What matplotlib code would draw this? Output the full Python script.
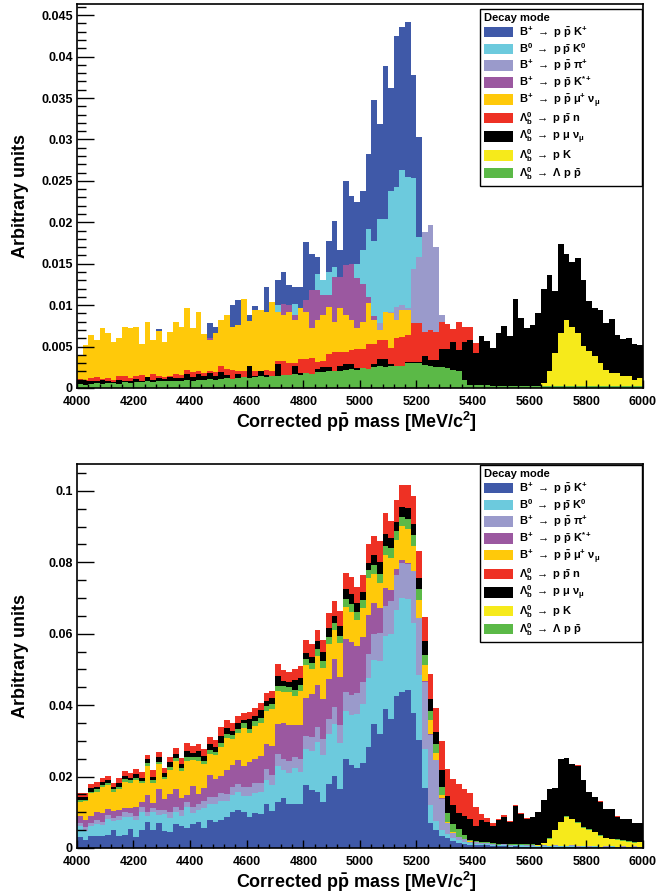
import numpy as np
import matplotlib
matplotlib.use("Agg")
import matplotlib.pyplot as plt
from matplotlib.patches import Patch
from matplotlib.ticker import MultipleLocator, FuncFormatter

plt.rcParams["font.family"] = ["Liberation Sans", "DejaVu Sans"]
plt.rcParams["font.weight"] = "bold"
plt.rcParams["mathtext.fontset"] = "custom"
plt.rcParams["mathtext.rm"] = "Liberation Sans:bold"
plt.rcParams["mathtext.bf"] = "Liberation Sans:bold"
plt.rcParams["mathtext.it"] = "Liberation Sans:italic"
plt.rcParams["mathtext.default"] = "rm"

# 100 bins of 20 MeV between 4000 and 6000
edges = np.linspace(4000, 6000, 101)

# B+ -> p pbar K+
b_ppk = [
    0.0030, 0.0022, 0.0033, 0.0034, 0.0034, 0.0035, 0.0050, 0.0034, 0.0035, 0.0053,
    0.0031, 0.0050, 0.0072, 0.0050, 0.0071, 0.0047, 0.0045, 0.0066, 0.0062, 0.0055,
    0.0068, 0.0072, 0.0055, 0.0078, 0.0074, 0.0078, 0.0086, 0.0100, 0.0106, 0.0100,
    0.0088, 0.0099, 0.0094, 0.0122, 0.0104, 0.0130, 0.0140, 0.0124, 0.0122, 0.0122,
    0.0176, 0.0162, 0.0158, 0.0130, 0.0178, 0.0202, 0.0166, 0.0250, 0.0232, 0.0224,
    0.0238, 0.0283, 0.0348, 0.0319, 0.0389, 0.0362, 0.0425, 0.0436, 0.0442, 0.0378,
    0.0303, 0.0168, 0.0070, 0.0050, 0.0034, 0.0028, 0.0019, 0.0015, 0.0012, 0.0009,
    0.0008, 0.0007, 0.0007, 0.0006, 0.0005, 0.0005, 0.0004, 0.0005, 0.0004, 0.0004,
    0.0004, 0.0003, 0.0004, 0.0003, 0.0004, 0.0003, 0.0003, 0.0004, 0.0003, 0.0003,
    0.0003, 0.0003, 0.0002, 0.0003, 0.0003, 0.0002, 0.0003, 0.0002, 0.0003, 0.0002,
]
# B0 -> p pbar K0
b0_ppk0 = [
    0.0031, 0.0026, 0.0028, 0.0034, 0.0031, 0.0046, 0.0025, 0.0044, 0.0052, 0.0035,
    0.0046, 0.0050, 0.0018, 0.0050, 0.0020, 0.0048, 0.0040, 0.0036, 0.0028, 0.0060,
    0.0030, 0.0034, 0.0058, 0.0046, 0.0050, 0.0054, 0.0045, 0.0048, 0.0052, 0.0045,
    0.0058, 0.0055, 0.0062, 0.0068, 0.0072, 0.0100, 0.0078, 0.0085, 0.0101, 0.0090,
    0.0102, 0.0110, 0.0138, 0.0130, 0.0140, 0.0146, 0.0128, 0.0135, 0.0140, 0.0150,
    0.0166, 0.0192, 0.0178, 0.0204, 0.0204, 0.0238, 0.0242, 0.0263, 0.0255, 0.0253,
    0.0182, 0.0110, 0.0050, 0.0025, 0.0016, 0.0012, 0.0008, 0.0006, 0.0005, 0.0004,
    0.0004, 0.0003, 0.0003, 0.0003, 0.0002, 0.0003, 0.0002, 0.0002, 0.0003, 0.0002,
    0.0002, 0.0002, 0.0002, 0.0002, 0.0002, 0.0002, 0.0002, 0.0002, 0.0001, 0.0002,
    0.0001, 0.0002, 0.0001, 0.0001, 0.0002, 0.0001, 0.0001, 0.0001, 0.0001, 0.0001,
]
# B+ -> p pbar pi+
b_pppi = [
    0.0009, 0.0010, 0.0008, 0.0011, 0.0009, 0.0012, 0.0010, 0.0011, 0.0013, 0.0010,
    0.0012, 0.0014, 0.0011, 0.0013, 0.0015, 0.0012, 0.0016, 0.0014, 0.0017, 0.0015,
    0.0018, 0.0016, 0.0019, 0.0020, 0.0018, 0.0022, 0.0021, 0.0024, 0.0022, 0.0026,
    0.0025, 0.0028, 0.0026, 0.0030, 0.0029, 0.0032, 0.0031, 0.0035, 0.0033, 0.0038,
    0.0036, 0.0040, 0.0042, 0.0045, 0.0043, 0.0048, 0.0050, 0.0053, 0.0056, 0.0060,
    0.0062, 0.0068, 0.0072, 0.0078, 0.0085, 0.0092, 0.0098, 0.0100, 0.0097, 0.0144,
    0.0158, 0.0188, 0.0197, 0.0170, 0.0088, 0.0030, 0.0015, 0.0010, 0.0007, 0.0005,
    0.0004, 0.0003, 0.0003, 0.0003, 0.0002, 0.0002, 0.0002, 0.0002, 0.0002, 0.0001,
    0.0001, 0.0001, 0.0001, 0.0001, 0.0001, 0.0001, 0.0001, 0.0001, 0.0001, 0.0001,
    0.0001, 0.0001, 0.0001, 0.0001, 0.0001, 0.0001, 0.0001, 0.0001, 0.0001, 0.0001,
]
# B+ -> p pbar K*+
b_ppkst = [
    0.0019, 0.0021, 0.0020, 0.0021, 0.0024, 0.0016, 0.0018, 0.0017, 0.0012, 0.0013,
    0.0027, 0.0014, 0.0048, 0.0012, 0.0059, 0.0030, 0.0049, 0.0048, 0.0034, 0.0018,
    0.0057, 0.0030, 0.0037, 0.0060, 0.0052, 0.0048, 0.0067, 0.0060, 0.0065, 0.0058,
    0.0070, 0.0066, 0.0075, 0.0072, 0.0080, 0.0085, 0.0101, 0.0100, 0.0088, 0.0095,
    0.0106, 0.0118, 0.0118, 0.0112, 0.0112, 0.0134, 0.0134, 0.0148, 0.0150, 0.0133,
    0.0125, 0.0110, 0.0087, 0.0070, 0.0050, 0.0030, 0.0015, 0.0008, 0.0004, 0.0002,
    0.0001, 0.0001, 0.0001, 0.0001, 0.0001, 0.0000, 0.0000, 0.0000, 0.0000, 0.0000,
    0.0000, 0.0000, 0.0000, 0.0000, 0.0000, 0.0000, 0.0000, 0.0000, 0.0000, 0.0000,
    0.0000, 0.0000, 0.0000, 0.0000, 0.0000, 0.0000, 0.0000, 0.0000, 0.0000, 0.0000,
    0.0000, 0.0000, 0.0000, 0.0000, 0.0000, 0.0000, 0.0000, 0.0000, 0.0000, 0.0000,
]
# B+ -> p pbar mu+ nu
b_ppmunu = [
    0.0039, 0.0052, 0.0064, 0.0058, 0.0072, 0.0066, 0.0055, 0.0060, 0.0074, 0.0072,
    0.0074, 0.0053, 0.0080, 0.0058, 0.0069, 0.0055, 0.0068, 0.0080, 0.0074, 0.0096,
    0.0072, 0.0092, 0.0065, 0.0058, 0.0066, 0.0082, 0.0088, 0.0074, 0.0076, 0.0107,
    0.0081, 0.0094, 0.0094, 0.0092, 0.0104, 0.0092, 0.0088, 0.0092, 0.0082, 0.0096,
    0.0092, 0.0072, 0.0082, 0.0088, 0.0098, 0.0080, 0.0096, 0.0088, 0.0082, 0.0072,
    0.0080, 0.0102, 0.0082, 0.0070, 0.0092, 0.0090, 0.0082, 0.0094, 0.0094, 0.0070,
    0.0050, 0.0045, 0.0040, 0.0019, 0.0008, 0.0004, 0.0002, 0.0001, 0.0001, 0.0001,
    0.0000, 0.0000, 0.0000, 0.0000, 0.0000, 0.0000, 0.0000, 0.0000, 0.0000, 0.0000,
    0.0000, 0.0000, 0.0000, 0.0000, 0.0000, 0.0000, 0.0000, 0.0000, 0.0000, 0.0000,
    0.0000, 0.0000, 0.0000, 0.0000, 0.0000, 0.0000, 0.0000, 0.0000, 0.0000, 0.0000,
]
# Lb -> p pbar n
lb_ppn = [
    0.0011, 0.0010, 0.0012, 0.0013, 0.0011, 0.0012, 0.0010, 0.0015, 0.0014, 0.0012,
    0.0014, 0.0016, 0.0011, 0.0017, 0.0015, 0.0013, 0.0015, 0.0017, 0.0016, 0.0022,
    0.0019, 0.0020, 0.0018, 0.0021, 0.0019, 0.0026, 0.0023, 0.0022, 0.0020, 0.0020,
    0.0019, 0.0021, 0.0021, 0.0022, 0.0021, 0.0033, 0.0032, 0.0030, 0.0030, 0.0035,
    0.0035, 0.0036, 0.0031, 0.0033, 0.0041, 0.0043, 0.0043, 0.0044, 0.0046, 0.0047,
    0.0047, 0.0053, 0.0053, 0.0058, 0.0058, 0.0048, 0.0060, 0.0062, 0.0064, 0.0078,
    0.0078, 0.0067, 0.0070, 0.0068, 0.0080, 0.0077, 0.0071, 0.0080, 0.0074, 0.0074,
    0.0054, 0.0015, 0.0012, 0.0008, 0.0005, 0.0004, 0.0003, 0.0002, 0.0002, 0.0002,
    0.0001, 0.0001, 0.0001, 0.0001, 0.0001, 0.0001, 0.0001, 0.0001, 0.0001, 0.0001,
    0.0001, 0.0001, 0.0001, 0.0001, 0.0001, 0.0001, 0.0001, 0.0001, 0.0001, 0.0001,
]
# Lb -> p mu nu
lb_pmunu = [
    0.0010, 0.0008, 0.0009, 0.0008, 0.0010, 0.0009, 0.0007, 0.0010, 0.0009, 0.0008,
    0.0011, 0.0009, 0.0013, 0.0010, 0.0012, 0.0011, 0.0013, 0.0012, 0.0012, 0.0017,
    0.0013, 0.0017, 0.0014, 0.0018, 0.0014, 0.0019, 0.0016, 0.0011, 0.0017, 0.0009,
    0.0027, 0.0015, 0.0021, 0.0016, 0.0015, 0.0029, 0.0013, 0.0012, 0.0027, 0.0018,
    0.0017, 0.0016, 0.0023, 0.0025, 0.0025, 0.0019, 0.0027, 0.0029, 0.0029, 0.0024,
    0.0022, 0.0021, 0.0029, 0.0035, 0.0035, 0.0029, 0.0026, 0.0026, 0.0031, 0.0031,
    0.0031, 0.0039, 0.0034, 0.0034, 0.0047, 0.0047, 0.0055, 0.0046, 0.0055, 0.0058,
    0.0042, 0.0063, 0.0057, 0.0048, 0.0066, 0.0075, 0.0063, 0.0107, 0.0085, 0.0072,
    0.0076, 0.0091, 0.0119, 0.0136, 0.0117, 0.0174, 0.0162, 0.0152, 0.0157, 0.0130,
    0.0105, 0.0097, 0.0094, 0.0079, 0.0083, 0.0064, 0.0059, 0.0060, 0.0053, 0.0052,
]
# Lb -> p K
lb_pk = [
    0.0000, 0.0000, 0.0000, 0.0000, 0.0000, 0.0000, 0.0000, 0.0000, 0.0000, 0.0000,
    0.0000, 0.0000, 0.0000, 0.0000, 0.0000, 0.0000, 0.0000, 0.0000, 0.0000, 0.0000,
    0.0000, 0.0000, 0.0000, 0.0000, 0.0000, 0.0000, 0.0000, 0.0000, 0.0000, 0.0000,
    0.0000, 0.0000, 0.0000, 0.0000, 0.0000, 0.0000, 0.0000, 0.0000, 0.0000, 0.0000,
    0.0000, 0.0000, 0.0000, 0.0000, 0.0000, 0.0000, 0.0000, 0.0000, 0.0000, 0.0000,
    0.0000, 0.0000, 0.0000, 0.0000, 0.0000, 0.0000, 0.0000, 0.0000, 0.0000, 0.0000,
    0.0000, 0.0000, 0.0000, 0.0000, 0.0000, 0.0000, 0.0000, 0.0000, 0.0000, 0.0000,
    0.0000, 0.0000, 0.0000, 0.0000, 0.0000, 0.0000, 0.0000, 0.0000, 0.0000, 0.0001,
    0.0001, 0.0001, 0.0006, 0.0020, 0.0042, 0.0066, 0.0082, 0.0073, 0.0066, 0.0051,
    0.0045, 0.0038, 0.0030, 0.0022, 0.0018, 0.0018, 0.0014, 0.0014, 0.0010, 0.0012,
]
# Lb -> Lambda p pbar
lb_lpp = [
    0.0005, 0.0004, 0.0005, 0.0006, 0.0005, 0.0006, 0.0006, 0.0005, 0.0007, 0.0006,
    0.0007, 0.0007, 0.0008, 0.0007, 0.0008, 0.0008, 0.0009, 0.0008, 0.0009, 0.0010,
    0.0009, 0.0010, 0.0010, 0.0011, 0.0010, 0.0011, 0.0012, 0.0011, 0.0012, 0.0013,
    0.0012, 0.0013, 0.0014, 0.0013, 0.0015, 0.0014, 0.0016, 0.0016, 0.0017, 0.0016,
    0.0018, 0.0017, 0.0019, 0.0019, 0.0020, 0.0021, 0.0020, 0.0022, 0.0023, 0.0022,
    0.0024, 0.0023, 0.0025, 0.0026, 0.0025, 0.0027, 0.0026, 0.0027, 0.0030, 0.0030,
    0.0030, 0.0028, 0.0026, 0.0025, 0.0025, 0.0024, 0.0022, 0.0020, 0.0010, 0.0004,
    0.0003, 0.0003, 0.0003, 0.0002, 0.0002, 0.0002, 0.0002, 0.0002, 0.0002, 0.0002,
    0.0002, 0.0002, 0.0002, 0.0002, 0.0002, 0.0002, 0.0002, 0.0002, 0.0002, 0.0002,
    0.0002, 0.0002, 0.0002, 0.0002, 0.0002, 0.0002, 0.0002, 0.0002, 0.0002, 0.0002,
]

modes = [b_ppk, b0_ppk0, b_pppi, b_ppkst, b_ppmunu, lb_ppn, lb_pmunu, lb_pk, lb_lpp]
colors = ["#3f59a8", "#6ccadd", "#9a9acb", "#9b58a0", "#ffc90a",
          "#ee3124", "#000000", "#f6ea1b", "#5bb947"]
labels = [
    r"B$^{+}$ $\rightarrow$ p $\bar{\rm p}$ K$^{+}$",
    r"B$^{0}$ $\rightarrow$ p $\bar{\rm p}$ K$^{0}$",
    r"B$^{+}$ $\rightarrow$ p $\bar{\rm p}$ $\pi^{+}$",
    r"B$^{+}$ $\rightarrow$ p $\bar{\rm p}$ K$^{*+}$",
    r"B$^{+}$ $\rightarrow$ p $\bar{\rm p}$ $\mu^{+}$ $\nu_{\mu}$",
    r"$\Lambda_{\rm b}^{0}$ $\rightarrow$ p $\bar{\rm p}$ n",
    r"$\Lambda_{\rm b}^{0}$ $\rightarrow$ p $\mu$ $\nu_{\mu}$",
    r"$\Lambda_{\rm b}^{0}$ $\rightarrow$ p K",
    r"$\Lambda_{\rm b}^{0}$ $\rightarrow$ $\Lambda$ p $\bar{\rm p}$",
]
# order of the layers in the stacked panel, bottom first
stack_order = [0, 1, 2, 3, 4, 7, 8, 6, 5]


def style_axes(ax, ymax, ymajor, yminor, legbox):
    ax.set_xlim(4000, 6000)
    ax.set_ylim(0, ymax)
    ax.xaxis.set_major_locator(MultipleLocator(200))
    ax.xaxis.set_minor_locator(MultipleLocator(40))
    ax.yaxis.set_major_locator(MultipleLocator(ymajor))
    ax.yaxis.set_minor_locator(MultipleLocator(yminor))
    ax.yaxis.set_major_formatter(FuncFormatter(lambda v, p: f"{v:g}"))
    ax.tick_params(axis="y", which="major", direction="in", length=12.5, width=1.0,
                   labelsize=9, pad=3)
    ax.tick_params(axis="y", which="minor", direction="in", length=6.5, width=1.0)
    ax.tick_params(axis="x", which="major", direction="in", length=6, width=1.0,
                   labelsize=9, pad=5.5)
    ax.tick_params(axis="x", which="minor", direction="in", length=3, width=1.0)
    for s in ax.spines.values():
        s.set_linewidth(1.2)
    ax.set_ylabel("Arbitrary units", fontsize=13, fontweight="bold")
    ax.yaxis.set_label_coords(-0.085, 0.5)
    ax.set_xlabel(r"Corrected p$\bar{\rm p}$ mass [MeV/c$^{2}$]", fontsize=13,
                  fontweight="bold")
    ax.xaxis.set_label_coords(0.494, -0.058)
    handles = [Patch(facecolor=c, edgecolor="none") for c in colors]
    leg = ax.legend(handles, labels, loc="upper left", mode="expand",
                    bbox_to_anchor=legbox, borderaxespad=0,
                    title="Decay mode", alignment="left",
                    title_fontproperties={"weight": "bold", "size": 8},
                    fontsize=8, handlelength=2.6, handleheight=1.1,
                    handletextpad=0.5, labelspacing=0.1, borderpad=0.4,
                    fancybox=False, framealpha=1, edgecolor="black")
    leg.get_frame().set_linewidth(1.0)


fig = plt.figure(figsize=(6.57, 8.96), dpi=100)
ax1 = fig.add_axes([0.117, 0.567, 0.8615, 0.429])
ax2 = fig.add_axes([0.117, 0.0536, 0.8615, 0.428])

# top: each decay mode drawn on top of the previous one
for vals, col in zip(modes, colors):
    ax1.stairs(vals, edges, fill=True, color=col, linewidth=0)

# bottom: stacked
base = np.zeros(len(edges) - 1)
for idx in stack_order:
    top = base + np.array(modes[idx])
    ax2.stairs(top, edges, baseline=base, fill=True, color=colors[idx], linewidth=0)
    base = top

style_axes(ax1, 0.0464, 0.005, 0.001, (0.712, 0.5, 0.286, 0.486))
style_axes(ax2, 0.1074, 0.02, 0.005, (0.712, 0.5, 0.286, 0.499))

fig.savefig("out.png", dpi=100)
